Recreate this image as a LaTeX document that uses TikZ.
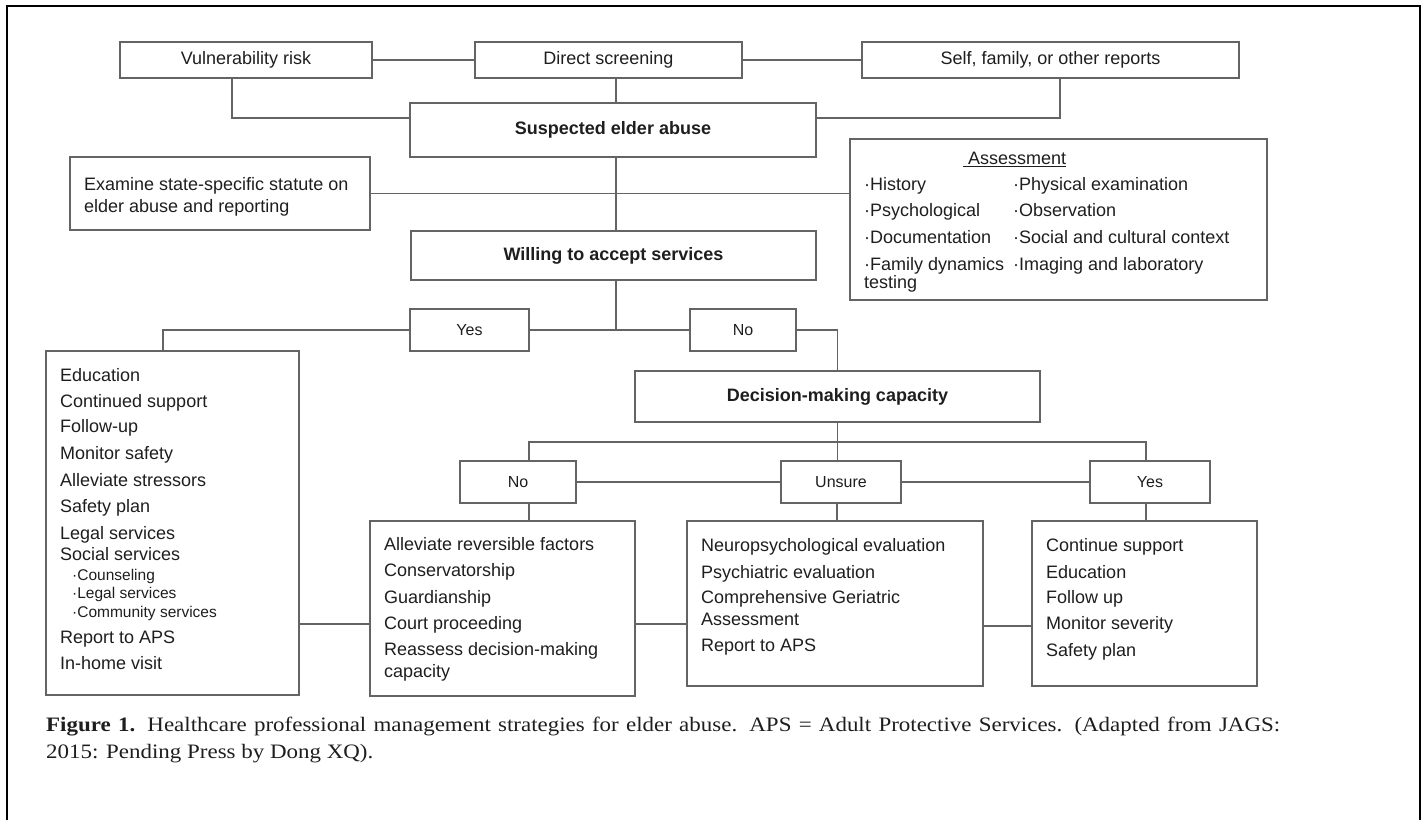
\documentclass[tikz,border=0pt]{standalone}
\usepackage{fontspec}
\setmainfont{Liberation Sans}
\newfontfamily\capfont[FakeStretch=1.12]{Liberation Serif}
\usetikzlibrary{calc}
\definecolor{lc}{RGB}{100,100,100}
\definecolor{tc}{RGB}{30,30,30}
\newcommand\fsz[1]{\fontsize{#1pt}{#1pt}\selectfont}
\newcommand\ulbox[1]{\leavevmode\vtop{\hbox{#1}\kern1.6pt\hrule height 1.1pt}}
\newcommand\bx[7]{\node[#2,minimum width={(#5-#3)*1pt},minimum height={(#6-#4)*1pt}] (#1) at ({(#3+#5)/2},{(#4+#6)/2}) {#7};}
\begin{document}
\begin{tikzpicture}[x=1pt,y=-1pt,
  box/.style={draw=lc,line width=1.3pt,inner sep=0pt,outer sep=0pt,text=tc,font=\fsz{18}},
  hd/.style={box,font=\fsz{18}\bfseries},
  lab/.style={box,font=\fsz{16}},
  item/.style={anchor=base west,inner sep=0pt,text=tc,font=\fsz{18}},
  subitem/.style={item,font=\fsz{15.5}},
  conn/.style={draw=lc,line width=1.3pt},
  captext/.style={anchor=base west,inner sep=0pt,text=tc,font=\capfont\fsz{20.5}}]
\useasboundingbox (0,0) rectangle (1426,820);
\draw[line width=2.5pt] (7,820) -- (7,6) -- (1420,6) -- (1420,820);

% boxes
\bx{vr}{box}{120}{42}{372}{78}{Vulnerability risk}
\bx{ds}{box}{475}{42}{742}{78}{Direct screening}
\bx{sf}{box}{862}{42}{1239}{78}{Self, family, or other reports}
\bx{sea}{hd}{410}{103}{816}{157}{Suspected elder abuse}
\bx{ex}{box}{70}{157}{370}{230}{}
\bx{as}{box}{850}{139}{1267}{300}{}
\bx{wil}{hd}{411}{231}{816}{280}{Willing to accept services}
\bx{yes1}{lab}{410}{309}{529}{351}{Yes}
\bx{no1}{lab}{690}{309}{796}{351}{No}
\bx{lb}{box}{46}{351}{299}{695}{}
\bx{dm}{hd}{635}{371}{1040}{422}{Decision-making capacity}
\bx{no2}{lab}{460}{461}{576}{503}{No}
\bx{un}{lab}{781}{461}{901}{503}{Unsure}
\bx{ye2}{lab}{1090}{461}{1210}{503}{Yes}
\bx{al}{box}{370}{521}{635}{696}{}
\bx{ne}{box}{687}{521}{983}{686}{}
\bx{co}{box}{1032}{521}{1257}{686}{}

% connectors
\coordinate (sj) at (0,118);
\coordinate (hb) at (837,442);
\coordinate (bl) at (0,624);
\coordinate (br) at (0,626);
\draw[conn] (vr.east) -- (ds.west);
\draw[conn] (ds.east) -- (sf.west);
\draw[conn] ([xshift=-14pt]vr.south) |- (sea.west |- sj);
\draw[conn] ([xshift=9.5pt]sf.south) |- (sea.east |- sj);
\draw[conn] ([xshift=7.5pt]ds.south) -- ([xshift=7.5pt]ds.south |- sea.north);
\draw[conn] ([xshift=3pt]sea.south) -- ([xshift=3pt]sea.south |- wil.north);
\draw[conn] (ex.east) -- (ex.east -| as.west);
\draw[conn] ([xshift=2.5pt]wil.south) -- ([xshift=2.5pt]wil.south |- yes1.east);
\draw[conn] (yes1.east) -- (no1.west);
\draw[conn] (yes1.west) -| ([xshift=-9.5pt]lb.north);
\draw[conn] (no1.east) -| (dm.north);
\draw[conn] (dm.south) -- (dm.south |- un.north);
\draw[conn] ([xshift=11pt]no2.north) |- (hb) -| ([xshift=-4pt]ye2.north);
\draw[conn] (no2.east) -- (un.west);
\draw[conn] (un.east) -- (ye2.west);
\draw[conn] ([xshift=11pt]no2.south) -- ([xshift=11pt]no2.south |- al.north);
\draw[conn] ([xshift=-4pt]un.south) -- ([xshift=-4pt]un.south |- ne.north);
\draw[conn] ([xshift=-4pt]ye2.south) -- ([xshift=-4pt]ye2.south |- co.north);
\draw[conn] (lb.east |- bl) -- (al.west |- bl);
\draw[conn] (al.east |- bl) -- (ne.west |- bl);
\draw[conn] (ne.east |- br) -- (co.west |- br);

% examine text
\node[item] (ex1) at (84,190) {Examine state-specific statute on};
\node[item] (ex2) at (84,212) {elder abuse and reporting};

% assessment text
\node[item] (ash) at (963,164) {\ulbox{\hspace{5pt}Assessment}};
\foreach \t/\b [count=\i] in {{·History}/190,{·Psychological}/216,{·Documentation}/243,{·Family dynamics}/270,{testing}/288}
  \node[item] (asl\i) at (864,\b) {\t};
\foreach \t/\b [count=\i] in {{·Physical examination}/190,{·Observation}/216,{·Social and cultural context}/243,{·Imaging and laboratory}/270}
  \node[item] (asr\i) at (1013,\b) {\t};

% left box
\foreach \t/\b [count=\i] in {Education/381,Continued support/407,Follow-up/432,Monitor safety/459,Alleviate stressors/486,Safety plan/512,Legal services/539,Social services/560,Report to APS/643,In-home visit/669}
  \node[item] (lbi\i) at (60,\b) {\t};
\foreach \t/\b [count=\i] in {{·Counseling}/580,{·Legal services}/598,{·Community services}/617}
  \node[subitem] (lbs\i) at (72,\b) {\t};

% alleviate box
\foreach \t/\b [count=\i] in {Alleviate reversible factors/550,Conservatorship/576,Guardianship/603,Court proceeding/629,Reassess decision-making/655,capacity/677}
  \node[item] (ali\i) at (384,\b) {\t};

% neuro box
\foreach \t/\b [count=\i] in {Neuropsychological evaluation/551,Psychiatric evaluation/578,Comprehensive Geriatric/603,Assessment/625,Report to APS/651}
  \node[item] (nei\i) at (701,\b) {\t};

% continue box
\foreach \t/\b [count=\i] in {Continue support/551,Education/578,Follow up/603,Monitor severity/629,Safety plan/656}
  \node[item] (coi\i) at (1046,\b) {\t};

% caption
\node[captext] (cap1) at (46,731) {\makebox[1234pt][s]{\textbf{Figure 1.} Healthcare professional management strategies for elder abuse. APS = Adult Protective Services. (Adapted from JAGS:}};
\node[captext] (cap2) at (46,758) {2015: Pending Press by Dong XQ).};
\end{tikzpicture}
\end{document}
